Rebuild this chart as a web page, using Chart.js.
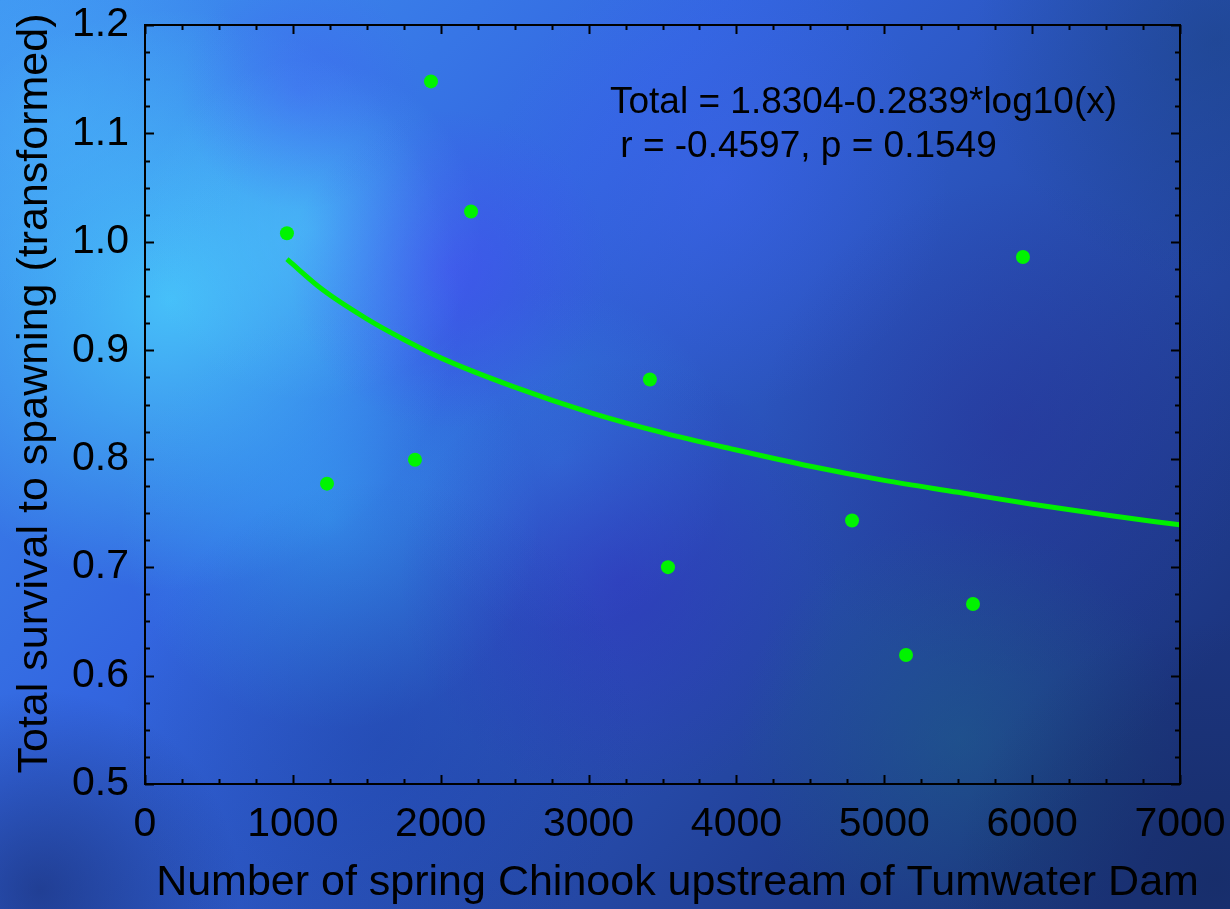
<!DOCTYPE html>
<html>
<head>
<meta charset="utf-8">
<script src="https://cdn.jsdelivr.net/npm/chart.js@4"></script>
<style>
html,body{margin:0;padding:0;background:#1c3a8a;}
#wrap{width:1230px;height:909px;position:relative;}
</style>
</head>
<body>
<div id="wrap"><canvas id="c" width="1230" height="909"></canvas></div>
<script>
// ---- data ----
const chinookCounts = [960, 1231, 1826, 1934, 2205, 3415, 3537, 4782, 5147, 5600, 5938];
const survivalValues = [1.008, 0.777, 0.799, 1.148, 1.028, 0.873, 0.700, 0.743, 0.619, 0.666, 0.986];
const fitX = [960, 1200, 1500, 1750, 2000, 2500, 3000, 3500, 4000, 4500, 5000, 5500, 6000, 6500, 7000];
const fitY = [0.984, 0.956, 0.929, 0.910, 0.893, 0.866, 0.843, 0.824, 0.808, 0.793, 0.780, 0.769, 0.758, 0.748, 0.739];
const xTickValues = [0, 1000, 2000, 3000, 4000, 5000, 6000, 7000];
const yTickValues = [0.5, 0.6, 0.7, 0.8, 0.9, 1.0, 1.1, 1.2];
const xTitle = 'Number of spring Chinook upstream of Tumwater Dam';
const yTitle = 'Total survival to spawning (transformed)';
const annotationLines = ['Total = 1.8304-0.2839*log10(x)', ' r = -0.4597, p = 0.1549'];
const annotationAnchor = {x: 3145, y: 1.119};

const FONT = '"Liberation Sans", Arial, sans-serif';

const bgPlugin = {
  id: 'bg',
  beforeDraw(chart) {
    const ctx = chart.ctx, W = chart.width, H = chart.height;
    ctx.save();
    const g = ctx.createLinearGradient(0, 0, W * 0.8, H);
    g.addColorStop(0, '#3f95f2');
    g.addColorStop(0.4, '#3366e0');
    g.addColorStop(1, '#1c3580');
    ctx.fillStyle = g;
    ctx.fillRect(0, 0, W, H);
    const blobs = [
      [170, 300, 290, 'rgba(75,215,255,0.75)'],
      [310, 230, 170, 'rgba(80,205,255,0.5)'],
      [60, 120, 200, 'rgba(75,180,250,0.45)'],
      [330, 520, 210, 'rgba(55,175,250,0.5)'],
      [560, 460, 170, 'rgba(55,160,245,0.3)'],
      [450, 270, 160, 'rgba(75,70,245,0.45)'],
      [300, 90, 120, 'rgba(70,90,245,0.35)'],
      [720, 180, 230, 'rgba(65,100,245,0.4)'],
      [620, 580, 220, 'rgba(52,40,190,0.45)'],
      [1010, 430, 250, 'rgba(42,40,150,0.35)'],
      [960, 740, 220, 'rgba(30,115,135,0.35)'],
      [40, 890, 200, 'rgba(18,30,85,0.5)'],
      [1215, 880, 260, 'rgba(20,40,90,0.55)'],
      [1215, 40, 240, 'rgba(25,65,125,0.5)'],
      [380, 740, 260, 'rgba(25,60,160,0.35)']
    ];
    for (const [x, y, r, c] of blobs) {
      const rg = ctx.createRadialGradient(x, y, 0, x, y, r);
      rg.addColorStop(0, c);
      rg.addColorStop(1, c.replace(/[\d.]+\)$/, '0)'));
      ctx.fillStyle = rg;
      ctx.fillRect(0, 0, W, H);
    }
    ctx.restore();
  }
};

const framePlugin = {
  id: 'frame',
  afterDraw(chart) {
    const ctx = chart.ctx, a = chart.chartArea;
    const xs = chart.scales.x, ys = chart.scales.y;
    ctx.save();
    ctx.strokeStyle = '#000';
    ctx.lineWidth = 2;
    ctx.strokeRect(a.left, a.top, a.right - a.left, a.bottom - a.top);
    ctx.beginPath();
    const xStepMinor = (xTickValues[1] - xTickValues[0]) / 4;
    for (let i = 0; ; i++) {
      const v = xs.min + i * xStepMinor;
      if (v > xs.max + 1e-9) break;
      const len = i % 4 === 0 ? 9 : 5;
      const px = Math.round(xs.getPixelForValue(v)) + 0.5;
      ctx.moveTo(px, a.bottom); ctx.lineTo(px, a.bottom - len);
      ctx.moveTo(px, a.top); ctx.lineTo(px, a.top + len);
    }
    const yStepMinor = (yTickValues[1] - yTickValues[0]) / 4;
    for (let i = 0; ; i++) {
      const v = ys.min + i * yStepMinor;
      if (v > ys.max + 1e-9) break;
      const len = i % 4 === 0 ? 9 : 5;
      const py = Math.round(ys.getPixelForValue(v)) + 0.5;
      ctx.moveTo(a.left, py); ctx.lineTo(a.left + len, py);
      ctx.moveTo(a.right, py); ctx.lineTo(a.right - len, py);
    }
    ctx.stroke();
    ctx.fillStyle = '#000';
    ctx.textBaseline = 'alphabetic';
    // annotation text
    ctx.font = '37px ' + FONT;
    ctx.textAlign = 'left';
    const ax = xs.getPixelForValue(annotationAnchor.x);
    const ay = ys.getPixelForValue(annotationAnchor.y);
    annotationLines.forEach((t, i) => ctx.fillText(t, ax, ay + i * 44));
    // axis titles
    ctx.font = '43px ' + FONT;
    ctx.textAlign = 'center';
    ctx.fillText(xTitle, (a.left + a.right) / 2 + 15, chart.height - 14);
    ctx.translate(47, (a.top + a.bottom) / 2 - 11);
    ctx.rotate(-Math.PI / 2);
    ctx.fillText(yTitle, 0, 0);
    ctx.restore();
  }
};

new Chart(document.getElementById('c'), {
  type: 'scatter',
  data: {
    datasets: [
      {
        label: 'fit',
        type: 'line',
        data: fitX.map((x, i) => ({x, y: fitY[i]})),
        borderColor: '#00f000',
        borderWidth: 5,
        pointRadius: 0,
        fill: false,
        cubicInterpolationMode: 'monotone',
        order: 2
      },
      {
        label: 'observed',
        data: chinookCounts.map((x, i) => ({x, y: survivalValues[i]})),
        backgroundColor: '#00f400',
        borderColor: '#00f400',
        borderWidth: 0,
        pointRadius: 7,
        order: 1
      }
    ]
  },
  options: {
    responsive: false,
    animation: false,
    devicePixelRatio: 1,
    layout: {padding: {top: 25, right: 50, left: 0, bottom: 0}},
    plugins: {legend: {display: false}, tooltip: {enabled: false}},
    scales: {
      x: {
        type: 'linear',
        min: 0, max: 7000,
        afterBuildTicks(s) { s.ticks = xTickValues.map(v => ({value: v})); },
        afterFit(s) { s.height = 125; s.paddingLeft = 0; s.paddingRight = 0; },
        grid: {display: false},
        border: {display: false},
        ticks: {
          color: '#000', padding: 8,
          font: {family: FONT, size: 41},
          callback: v => String(v),
          maxRotation: 0, autoSkip: false
        },
        title: {display: false, text: xTitle}
      },
      y: {
        type: 'linear',
        min: 0.5, max: 1.2,
        afterBuildTicks(s) { s.ticks = yTickValues.map(v => ({value: v})); },
        afterFit(s) { s.width = 145; s.paddingTop = 0; s.paddingBottom = 0; },
        grid: {display: false},
        border: {display: false},
        ticks: {
          color: '#000', padding: 8,
          font: {family: FONT, size: 41},
          callback: v => Number(v).toFixed(1),
          autoSkip: false
        },
        title: {display: false, text: yTitle}
      }
    }
  },
  plugins: [bgPlugin, framePlugin]
});
</script>
</body>
</html>
